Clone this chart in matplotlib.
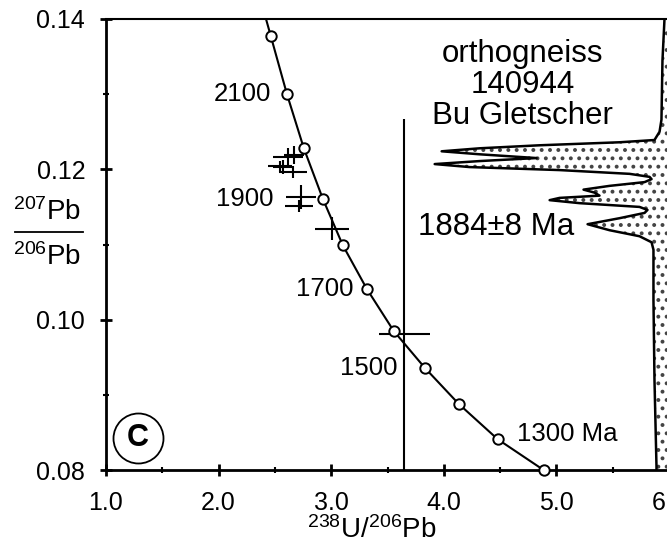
import numpy as np
import matplotlib
matplotlib.use('Agg')
import matplotlib.pyplot as plt
from matplotlib.lines import Line2D

plt.rcParams['font.family'] = ['Liberation Sans', 'DejaVu Sans']
plt.rcParams['mathtext.fontset'] = 'custom'
plt.rcParams['mathtext.rm'] = 'Liberation Sans'
plt.rcParams['mathtext.default'] = 'regular'
plt.rcParams['hatch.linewidth'] = 1.6

# concordia ages (Ma) and their Tera-Wasserburg coordinates
ages = [2300, 2200, 2100, 2000, 1900, 1800, 1700, 1600, 1500, 1400, 1300, 1200]
conc_u_pb = [2.322, 2.464, 2.607, 2.757, 2.925, 3.103, 3.316, 3.555, 3.831, 4.132, 4.478, 4.886]
conc_pb_pb = [0.1453, 0.1377, 0.1300, 0.1228, 0.1161, 0.1099, 0.1041, 0.0985, 0.0936, 0.0888, 0.0841, 0.0800]
labelled = {2100: '2100', 1900: '1900', 1700: '1700', 1500: '1500', 1300: '1300 Ma'}

# zircon analyses: 238U/206Pb, 207Pb/206Pb and half-widths of the error crosses
spot_u_pb = [2.615, 2.668, 2.544, 2.571, 2.659, 2.730, 2.713, 3.005, 3.649]
spot_u_pb_err = [0.133, 0.089, 0.106, 0.089, 0.124, 0.133, 0.124, 0.151, 0.226]
spot_pb_pb = [0.1216, 0.1219, 0.1204, 0.1203, 0.1196, 0.1163, 0.1151, 0.1121, 0.0981]
spot_pb_pb_err = [0.0012, 0.0012, 0.0007, 0.0009, 0.0008, 0.0016, 0.0008, 0.0015, 0.0286]

# outline of the 207Pb/206Pb probability density curve (drawn from the right edge)
dens_x = [5.960, 5.942, 5.933, 5.916, 5.871, 5.561, 4.851, 4.319, 3.981, 4.319, 4.824,
          4.319, 3.919, 4.230, 5.028, 5.650, 5.827, 5.845, 5.783, 5.472, 5.241, 5.339,
          5.383, 5.028, 4.940, 5.206, 5.738, 5.809, 5.783, 5.561, 5.277, 5.472, 5.738,
          5.845, 5.862, 5.862, 5.871, 5.889, 5.889]
dens_y = [0.1400, 0.1345, 0.1266, 0.1250, 0.1239, 0.1236, 0.1232, 0.1228, 0.1224, 0.1220, 0.1215,
          0.1211, 0.1207, 0.1203, 0.1199, 0.1194, 0.1190, 0.1187, 0.1183, 0.1178, 0.1173, 0.1169,
          0.1165, 0.1162, 0.1159, 0.1155, 0.1150, 0.1146, 0.1142, 0.1135, 0.1127, 0.1119, 0.1111,
          0.1103, 0.1093, 0.1026, 0.0920, 0.0804, 0.0800]

x_ticks = [1.0, 2.0, 3.0, 4.0, 5.0, 6.0]
y_ticks = [0.08, 0.10, 0.12, 0.14]
XMIN, XMAX = 1.0, 6.0
YMIN, YMAX = 0.08, 0.14

W, H = 667, 545
fig = plt.figure(figsize=(W / 100, H / 100), dpi=100)
ax = fig.add_axes([106 / W, 75 / H, 563 / W, 451 / H])
ax.set_xlim(XMIN, XMAX)
ax.set_ylim(YMIN, YMAX)

# probability density with stipple fill
ax.fill(dens_x + [XMAX + 0.2, XMAX + 0.2], dens_y + [YMIN, YMAX], facecolor='white',
        edgecolor='#444444', hatch='..', linewidth=0, zorder=1)
ax.plot(dens_x, dens_y, color='black', linewidth=1.8, zorder=2)

# concordia curve
ax.plot(conc_u_pb, conc_pb_pb, color='black', linewidth=1.5, zorder=3)
inside = [i for i in range(len(ages)) if conc_pb_pb[i] <= YMAX]
ax.plot([conc_u_pb[i] for i in inside], [conc_pb_pb[i] for i in inside], 'o',
        markersize=7.5, markerfacecolor='white', markeredgecolor='black',
        markeredgewidth=1.4, clip_on=False, zorder=5)

offsets = {2100: (-16, 0, 'right'), 1900: (-49, 0, 'right'), 1700: (-13, 0, 'right'),
           1500: (-27, 0, 'right'), 1300: (19, 5, 'left')}
for i, a in enumerate(ages):
    if a in labelled:
        dx, dy, ha = offsets[a]
        ax.annotate(labelled[a], (conc_u_pb[i], conc_pb_pb[i]), xytext=(dx, dy),
                    textcoords='offset pixels', ha=ha, va='center', fontsize=18.5)

# error crosses
ax.errorbar(spot_u_pb, spot_pb_pb, xerr=spot_u_pb_err, yerr=spot_pb_pb_err, fmt='none',
            ecolor='black', elinewidth=1.5, capsize=0, zorder=4)

ax.text(4.70, 0.1312, 'orthogneiss\n140944\nBu Gletscher', ha='center', va='center',
        fontsize=22.5, linespacing=1.05)
ax.text(4.465, 0.1123, '1884\u00b18 Ma', ha='center', va='center', fontsize=22.5)

# circled panel letter
ax.plot([0.057], [0.071], 'o', markersize=36, markerfacecolor='white',
        markeredgecolor='black', markeredgewidth=1.3, transform=ax.transAxes, clip_on=False)
ax.text(0.057, 0.071, 'C', transform=ax.transAxes, ha='center', va='center',
        fontsize=22, fontweight='bold')

ax.set_xticks(x_ticks)
ax.set_xticklabels(['%.1f' % t for t in x_ticks])
ax.set_yticks(y_ticks)
ax.set_yticklabels(['%.2f' % t for t in y_ticks])
ax.set_xticks(np.arange(1.5, 6.0, 1.0), minor=True)
ax.set_yticks([0.09, 0.11, 0.13], minor=True)
ax.tick_params(which='major', direction='inout', length=8, width=2, labelsize=18, pad=11)
ax.tick_params(which='minor', direction='inout', length=4, width=1.5)
ax.tick_params(top=False, right=False)
for s in ['left', 'bottom']:
    ax.spines[s].set_linewidth(2.0)
ax.spines['top'].set_linewidth(1.5)
ax.spines['right'].set_visible(False)

# axis titles
fig.text(372 / W, 1 - 530 / H, '$^{238}$U/$^{206}$Pb', ha='center', va='center', fontsize=20)
fig.text(47 / W, 1 - 212 / H, '$^{207}$Pb', ha='center', va='center', fontsize=20)
fig.text(47 / W, 1 - 257 / H, '$^{206}$Pb', ha='center', va='center', fontsize=20)
fig.add_artist(Line2D([15 / W, 83 / W], [1 - 232 / H, 1 - 232 / H], transform=fig.transFigure,
                      color='black', linewidth=1.3))

fig.savefig('out.png', dpi=100)
